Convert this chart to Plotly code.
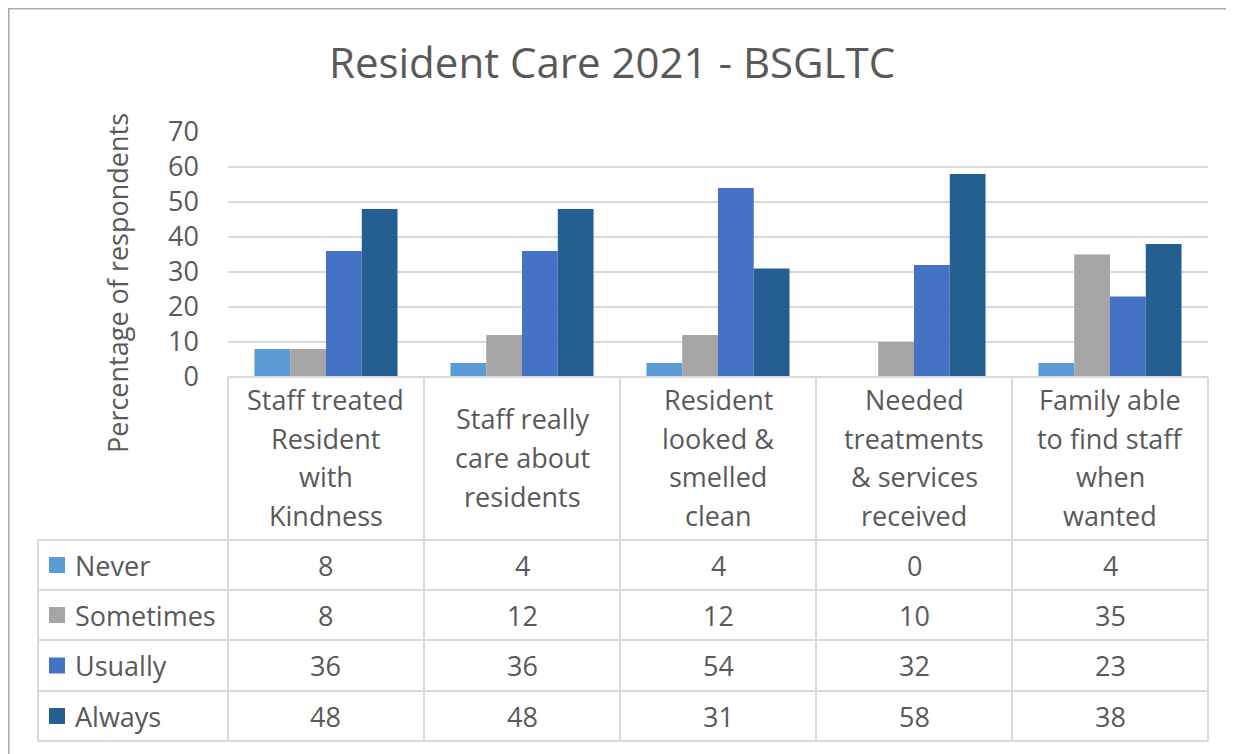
import plotly.graph_objects as go

W, H = 1234, 754

categories = [
    "Staff treated<br>Resident<br>with<br>Kindness",
    "Staff really<br>care about<br>residents",
    "Resident<br>looked &<br>smelled<br>clean",
    "Needed<br>treatments<br>& services<br>received",
    "Family able<br>to find staff<br>when<br>wanted",
]
series_names = ["Never", "Sometimes", "Usually", "Always"]
never = [8, 4, 4, 0, 4]
sometimes = [8, 12, 12, 10, 35]
usually = [36, 36, 54, 32, 23]
always = [48, 48, 31, 58, 38]
colors = ["#5B9BD5", "#A5A5A5", "#4472C4", "#255E91"]
y_ticks = [0, 10, 20, 30, 40, 50, 60, 70]
title = "Resident Care 2021 - BSGLTC"
y_title = "Percentage of respondents"

values = [never, sometimes, usually, always]
FONT = "Open Sans"
FS = 27
TXT = "#595959"
GRID = "#D9D9D9"

# page body margin offset (the page places the figure 8px in)
OFF = 8

def px(x):
    return (x - OFF) / W

def py(y):
    return 1 - (y - OFF) / H

# layout geometry (screen pixels)
plot_l, plot_r, plot_t, plot_b = 228, 1208, 132, 377
table_l = 38
row_edges = [540, 590, 640, 691, 741]
ncat = len(categories)
col_w = (plot_r - plot_l) / ncat

fig = go.Figure()
xs = list(range(ncat))
for name, vals, c in zip(series_names, values, colors):
    fig.add_trace(go.Bar(x=xs, y=vals, name=name, marker=dict(color=c, line=dict(width=0)),
                         showlegend=False))

shapes = []
annotations = []

# outer frame (left and top borders)
FR = "#ACA9A9"
shapes.append(dict(type="rect", xref="paper", yref="paper", x0=px(6), x1=px(9.5),
                   y0=py(H + 30), y1=py(6), fillcolor=FR, line=dict(width=0)))
shapes.append(dict(type="rect", xref="paper", yref="paper", x0=px(6), x1=px(W + 30),
                   y0=py(9.5), y1=py(6), fillcolor=FR, line=dict(width=0)))

# table lines
for i in range(ncat + 1):
    x = plot_l + i * col_w
    shapes.append(dict(type="line", xref="paper", yref="paper", x0=px(x), x1=px(x),
                       y0=py(plot_b), y1=py(row_edges[-1]), line=dict(color=GRID, width=2)))
shapes.append(dict(type="line", xref="paper", yref="paper", x0=px(table_l), x1=px(table_l),
                   y0=py(row_edges[0]), y1=py(row_edges[-1]), line=dict(color=GRID, width=2)))
for y in row_edges:
    shapes.append(dict(type="line", xref="paper", yref="paper", x0=px(table_l), x1=px(plot_r),
                       y0=py(y), y1=py(y), line=dict(color=GRID, width=2)))
shapes.append(dict(type="line", xref="paper", yref="paper", x0=px(plot_l), x1=px(plot_r),
                   y0=py(plot_b), y1=py(plot_b), line=dict(color=GRID, width=2)))

# category header labels (line by line)
line_h = 38.7
hdr_mid = (plot_b + row_edges[0]) / 2 - 1
for i, cat in enumerate(categories):
    lines = cat.split("<br>")
    cx = plot_l + (i + 0.5) * col_w
    n = len(lines)
    for j, ln in enumerate(lines):
        yy = hdr_mid + (j - (n - 1) / 2) * line_h
        annotations.append(dict(x=px(cx), y=py(yy), xref="paper", yref="paper", text=ln,
                                showarrow=False, xanchor="center", yanchor="middle",
                                font=dict(family=FONT, size=FS, color=TXT)))

# table rows
for r, (name, vals, c) in enumerate(zip(series_names, values, colors)):
    ymid = (row_edges[r] + row_edges[r + 1]) / 2
    shapes.append(dict(type="rect", xref="paper", yref="paper", x0=px(49), x1=px(65),
                       y0=py(ymid + 8), y1=py(ymid - 8), fillcolor=c, line=dict(width=0)))
    annotations.append(dict(x=px(73), y=py(ymid), xref="paper", yref="paper", text=name,
                            showarrow=False, xanchor="left", yanchor="middle",
                            font=dict(family=FONT, size=FS, color=TXT)))
    for i, v in enumerate(vals):
        cx = plot_l + (i + 0.5) * col_w
        annotations.append(dict(x=px(cx), y=py(ymid), xref="paper", yref="paper", text=str(v),
                                showarrow=False, xanchor="center", yanchor="middle",
                                font=dict(family=FONT, size=FS, color=TXT)))

# title
annotations.append(dict(x=px(612), y=py(62), xref="paper", yref="paper", text=title,
                        showarrow=False, xanchor="center", yanchor="middle",
                        font=dict(family=FONT, size=42, color=TXT)))
# y axis title
annotations.append(dict(x=px(117), y=py(283), xref="paper", yref="paper", text=y_title,
                        showarrow=False, xanchor="center", yanchor="middle", textangle=-90,
                        font=dict(family=FONT, size=FS, color=TXT)))

fig.update_layout(
    width=W, height=H, autosize=False,
    margin=dict(l=0, r=0, t=0, b=0, pad=0),
    paper_bgcolor="white", plot_bgcolor="white",
    barmode="group", bargap=0.27, bargroupgap=0,
    xaxis=dict(domain=[px(plot_l), px(plot_r)], range=[-0.5, ncat - 0.5], automargin=False,
               showticklabels=False, showgrid=False, zeroline=False, fixedrange=True),
    yaxis=dict(domain=[py(plot_b), py(plot_t)], range=[0, 70], tickvals=y_ticks, automargin=False,
               showgrid=True, gridcolor=GRID, gridwidth=2, zeroline=False,
               tickfont=dict(family=FONT, size=FS, color=TXT), ticks="", ticklabelstandoff=28),
    shapes=shapes, annotations=annotations, showlegend=False,
)

fig.write_html("out.html")
